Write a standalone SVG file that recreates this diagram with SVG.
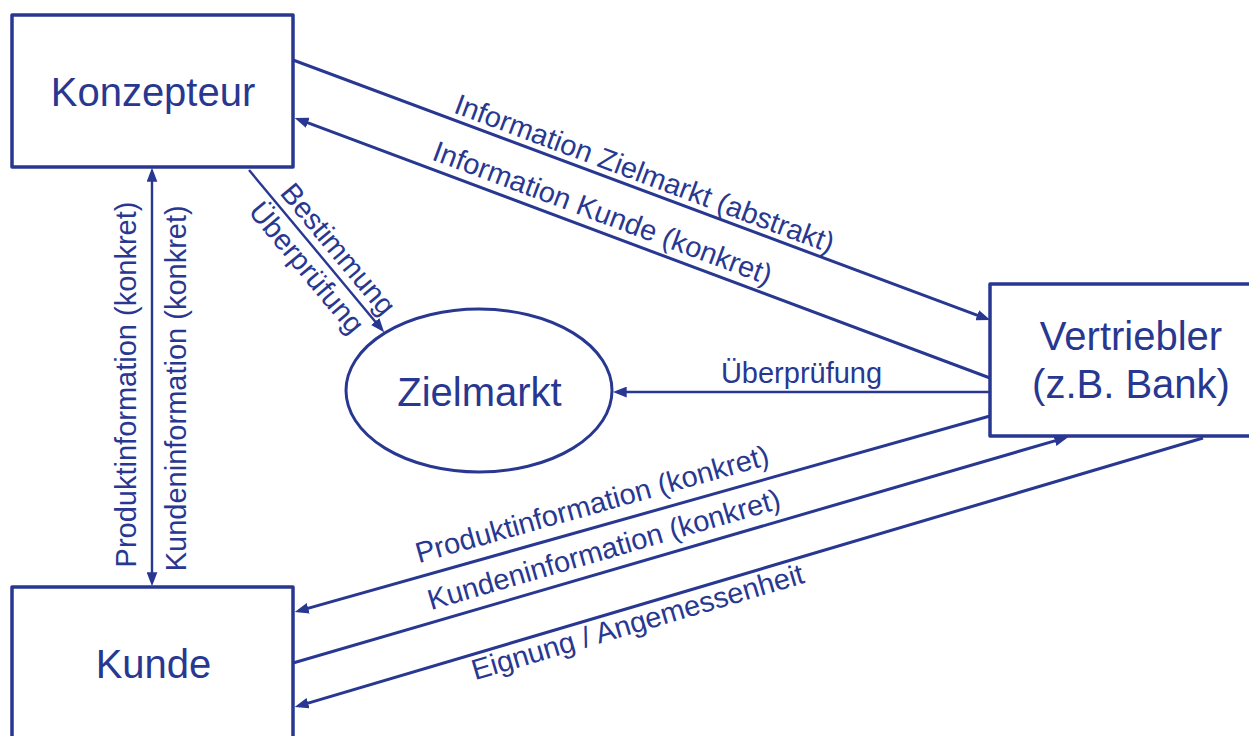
<svg xmlns="http://www.w3.org/2000/svg" width="1249" height="736" viewBox="0 0 1249 736">
  <style>
    .box { fill: #ffffff; stroke: #283891; stroke-width: 3.5; stroke-linejoin: round; }
    .node-text { font-family: "Liberation Sans", Arial, sans-serif; font-size: 40px; fill: #283891; text-anchor: middle; }
    .edge { fill: none; stroke: #283891; stroke-width: 3; }
    .edge-thin { fill: none; stroke: #283891; stroke-width: 2.4; }
    .label { font-family: "Liberation Sans", Arial, sans-serif; font-size: 29px; fill: #283891; text-anchor: middle; }
  </style>
  <defs>
    <marker id="arrow" markerUnits="userSpaceOnUse" markerWidth="14" markerHeight="11" viewBox="0 0 13 10" refX="9" refY="5" orient="auto-start-reverse">
      <path d="M0,0 L13,5 L0,10 z" fill="#283891"/>
    </marker>
  </defs>
  <rect width="1249" height="736" fill="#ffffff"/>

  <!-- connectors -->
  <g id="connectors">
    <line class="edge" x1="293" y1="60" x2="986.3" y2="318.6" marker-end="url(#arrow)"/>
    <line class="edge" x1="990" y1="378" x2="298.7" y2="119.4" marker-end="url(#arrow)"/>
    <line class="edge-thin" x1="249" y1="170" x2="381.4" y2="328.9" marker-end="url(#arrow)"/>
    <line class="edge-thin" x1="990" y1="392" x2="617" y2="392" marker-end="url(#arrow)"/>
    <line class="edge-thin" x1="152" y1="172" x2="152" y2="582" marker-start="url(#arrow)" marker-end="url(#arrow)"/>
    <line class="edge" x1="990" y1="416" x2="298.9" y2="610.9" marker-end="url(#arrow)"/>
    <line class="edge" x1="293" y1="663" x2="1064.2" y2="438.1" marker-end="url(#arrow)"/>
    <line class="edge" x1="1203" y1="438" x2="298.8" y2="705.9" marker-end="url(#arrow)"/>

    <g transform="translate(638.6,189.3) rotate(20.51)"><text class="label" x="0" y="-7">Information Zielmarkt (abstrakt)</text></g>
    <g transform="translate(596,230.6) rotate(20.51)"><text class="label" x="0" y="-9">Information Kunde (konkret)</text></g>
    <g transform="translate(324.5,260.6) rotate(50.19)"><text class="label" x="0" y="-8">Bestimmung</text></g>
    <g transform="translate(320.7,256) rotate(50.19)"><text class="label" x="0" y="28">Überprüfung</text></g>
    <text class="label" x="801.5" y="383.3">Überprüfung</text>
    <g transform="translate(136,384.5) rotate(-90)"><text class="label" x="0" y="0">Produktinformation (konkret)</text></g>
    <g transform="translate(186,388.3) rotate(-90)"><text class="label" x="0" y="0">Kundeninformation (konkret)</text></g>
    <g transform="translate(598.3,526.2) rotate(-15.71)"><text class="label" x="0" y="-13">Produktinformation (konkret)</text></g>
    <g transform="translate(610,570.5) rotate(-16.26)"><text class="label" x="0" y="-12">Kundeninformation (konkret)</text></g>
    <g transform="translate(633,606.5) rotate(-16.47)"><text class="label" x="0" y="26">Eignung / Angemessenheit</text></g>
  </g>

  <!-- nodes -->
  <g id="konzepteur">
    <rect class="box" x="12" y="15" width="281" height="152"/>
    <text class="node-text" x="153" y="106">Konzepteur</text>
  </g>
  <g id="kunde">
    <rect class="box" x="12" y="587" width="281" height="180"/>
    <text class="node-text" x="153.5" y="678">Kunde</text>
  </g>
  <g id="vertriebler">
    <rect class="box" x="990" y="284" width="282" height="152"/>
    <text class="node-text" x="1131" y="350">Vertriebler</text>
    <text class="node-text" x="1131" y="398">(z.B. Bank)</text>
  </g>
  <g id="zielmarkt">
    <ellipse class="box" cx="479" cy="390.5" rx="133" ry="81.5" style="stroke-width:3"/>
    <text class="node-text" x="479.5" y="406">Zielmarkt</text>
  </g>
</svg>
